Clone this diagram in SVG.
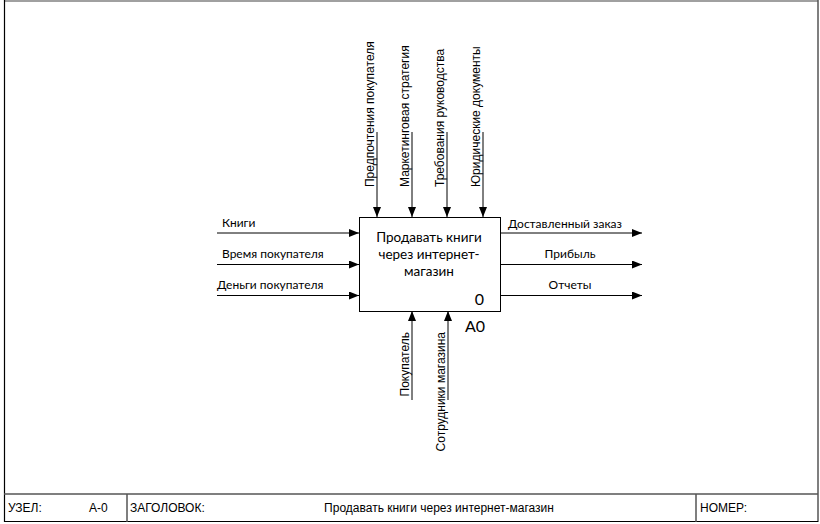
<svg xmlns="http://www.w3.org/2000/svg" width="820" height="524" viewBox="0 0 820 524">
<style>
.ln{stroke:#000;stroke-width:1;fill:none}
.lbl{font-family:"Lato","Open Sans","Liberation Sans",sans-serif;font-size:12px;fill:#000}
.vl{font-family:"Liberation Sans",Arial,sans-serif;font-size:12px;fill:#000}
.tb{font-family:"Liberation Sans",Arial,sans-serif;font-size:12px;fill:#000}
.box{font-family:"Lato","Open Sans","Liberation Sans",sans-serif;font-size:13.5px;fill:#000}
.num{font-family:"Lato","Open Sans","Liberation Sans",sans-serif;font-size:16px;fill:#000}
</style>
<defs>
<marker id="ah" markerWidth="10" markerHeight="8" refX="10" refY="4" orient="auto" markerUnits="userSpaceOnUse">
<path d="M0,0 L10,4 L0,8 Z" fill="#000"/>
</marker>
</defs>
<rect x="0" y="0" width="820" height="524" fill="#fff"/>
<g id="frame">
<line x1="4" y1="1" x2="818" y2="1" stroke="#808080" stroke-width="1.5"/>
<line x1="4.5" y1="0" x2="4.5" y2="522" stroke="#000" stroke-width="1.2"/>
<line x1="818" y1="0" x2="818" y2="522" stroke="#555" stroke-width="1.5"/>
<line x1="4" y1="521.5" x2="818" y2="521.5" stroke="#000" stroke-width="1.2"/>
<line x1="4" y1="494" x2="818" y2="494" stroke="#555" stroke-width="1.5"/>
<line x1="127" y1="494" x2="127" y2="522" stroke="#555" stroke-width="1.5"/>
<line x1="696" y1="494" x2="696" y2="522" stroke="#555" stroke-width="1.5"/>
<text class="tb" x="8" y="512">УЗЕЛ:</text>
<text class="tb" x="89" y="512">A-0</text>
<text class="tb" x="130" y="512">ЗАГОЛОВОК:</text>
<text class="tb" x="439" y="512" text-anchor="middle">Продавать книги через интернет-магазин</text>
<text class="tb" x="700" y="512">НОМЕР:</text>
</g>
<g id="node-A0">
<rect x="359.5" y="217.5" width="141" height="94" fill="#fff" stroke="#000" stroke-width="1"/>
<text class="box" x="429" y="242" text-anchor="middle">Продавать книги</text>
<text class="box" x="429" y="259" text-anchor="middle">через интернет-</text>
<text class="box" x="429" y="276" text-anchor="middle">магазин</text>
<text class="num" x="484" y="305" text-anchor="end">0</text>
<text class="num" x="465" y="332">A0</text>
</g>
<g id="connectors">
<line class="ln" x1="377" y1="132" x2="377" y2="217" stroke-width="1.3" marker-end="url(#ah)"/>
<line class="ln" x1="412" y1="132" x2="412" y2="217" stroke-width="1.3" marker-end="url(#ah)"/>
<line class="ln" x1="447" y1="132" x2="447" y2="217" stroke-width="1.3" marker-end="url(#ah)"/>
<line class="ln" x1="483" y1="132" x2="483" y2="217" stroke-width="1.3" marker-end="url(#ah)"/>
<text class="vl" transform="translate(374,187) rotate(-90)">Предпочтения покупателя</text>
<text class="vl" transform="translate(409,187) rotate(-90)">Маркетинговая стратегия</text>
<text class="vl" transform="translate(444,187) rotate(-90)">Требования руководства</text>
<text class="vl" transform="translate(480,187) rotate(-90)">Юридические документы</text>

<line class="ln" x1="217" y1="233" x2="359" y2="233" stroke-width="1.6" stroke="#555" marker-end="url(#ah)"/>
<line class="ln" x1="217" y1="264.5" x2="359" y2="264.5" marker-end="url(#ah)"/>
<line class="ln" x1="217" y1="295.5" x2="359" y2="295.5" marker-end="url(#ah)"/>
<text class="lbl" x="222" y="227">Книги</text>
<text class="lbl" x="222" y="258">Время покупателя</text>
<text class="lbl" x="217" y="289">Деньги покупателя</text>

<line class="ln" x1="500" y1="233" x2="642" y2="233" stroke-width="1.6" stroke="#555" marker-end="url(#ah)"/>
<line class="ln" x1="500" y1="264.5" x2="642" y2="264.5" marker-end="url(#ah)"/>
<line class="ln" x1="500" y1="295.5" x2="642" y2="295.5" marker-end="url(#ah)"/>
<text class="lbl" x="508" y="228">Доставленный заказ</text>
<text class="lbl" x="570" y="258" text-anchor="middle">Прибыль</text>
<text class="lbl" x="570" y="289" text-anchor="middle">Отчеты</text>

<line class="ln" x1="412" y1="400" x2="412" y2="311" stroke-width="1.3" marker-end="url(#ah)"/>
<line class="ln" x1="448" y1="400" x2="448" y2="311" stroke-width="1.3" marker-end="url(#ah)"/>
<text class="vl" transform="translate(409,332) rotate(-90)" text-anchor="end">Покупатель</text>
<text class="vl" transform="translate(445,332) rotate(-90)" text-anchor="end">Сотрудники магазина</text>
</g>
</svg>
